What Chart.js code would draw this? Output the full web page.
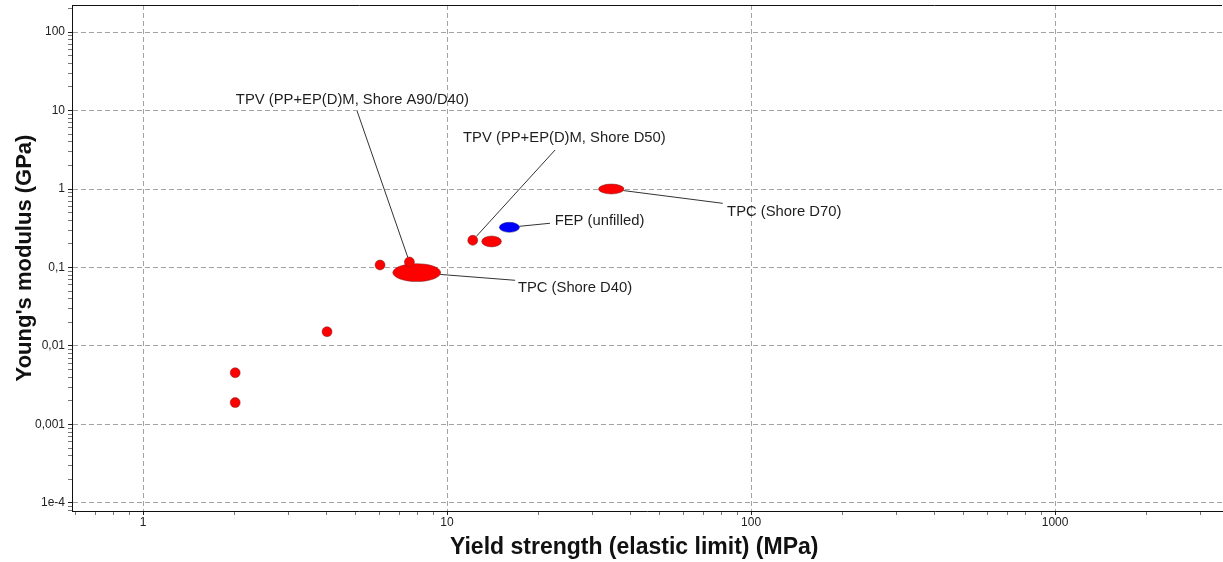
<!DOCTYPE html>
<html lang="en">
<head>
  <meta charset="UTF-8">
  <title>Young's modulus vs yield strength</title>
  <script src="https://cdn.jsdelivr.net/npm/chart.js"></script>
  <style>
    html, body { margin: 0; padding: 0; background: #fff; }
    #wrap { width: 1223px; height: 562px; }
  </style>
</head>
<body>
  <div id="wrap"><canvas id="chart"></canvas></div>

  <script>
    // axis limits (MPa / GPa)
    const X_MIN = 0.584, X_MAX = 3540;
    const Y_MIN = 7.9e-5, Y_MAX = 221;

    // property ranges
    const materialNames = [
      'Elastomer', 'Elastomer', 'Elastomer', 'Elastomer',
      'TPC (Shore D40)', 'TPV (PP+EP(D)M, Shore A90/D40)', 'TPV (PP+EP(D)M, Shore D50)',
      'Elastomer', 'FEP (unfilled)', 'TPC (Shore D70)'
    ];
    const materialGroup = ['elastomer', 'elastomer', 'elastomer', 'elastomer', 'elastomer',
      'elastomer', 'elastomer', 'elastomer', 'fluoropolymer', 'elastomer'];
    const yieldLow    = [2.01, 2.01, 4.03, 6.02, 6.63, 7.52, 12.15, 13.0, 14.86, 31.5];
    const yieldHigh   = [2.01, 2.01, 4.03, 6.02, 9.53, 7.52, 12.15, 15.1, 17.3, 38.2];
    const modulusLow  = [0.0019, 0.00456, 0.0152, 0.1076, 0.0662, 0.1175, 0.222, 0.183, 0.284, 0.871];
    const modulusHigh = [0.0019, 0.00456, 0.0152, 0.1076, 0.112, 0.1175, 0.222, 0.252, 0.372, 1.148];

    // callouts: which material, where the leader ends, where the text starts
    const labelText = ['TPV (PP+EP(D)M, Shore A90/D40)', 'TPV (PP+EP(D)M, Shore D50)',
      'FEP (unfilled)', 'TPC (Shore D70)', 'TPC (Shore D40)'];
    const labelFor = [5, 6, 8, 9, 4];
    const leaderToX = [5.06, 22.66, 21.8, 80.7, 16.74];
    const leaderToY = [9.85, 3.14, 0.366, 0.657, 0.0687];
    const labelX = [2.02, 11.29, 22.6, 83.4, 17.1];
    const labelY = [13.49, 4.46, 0.391, 0.514, 0.0553];

    const FONT = "'Liberation Sans', Arial, sans-serif";

    function isDecade(v) {
      if (!v) return false;
      const l = Math.log10(v);
      return Math.abs(l - Math.round(l)) < 1e-6;
    }

    function logTicks(min, max) {
      const out = [];
      for (let e = Math.floor(Math.log10(min)); e <= Math.ceil(Math.log10(max)); e++) {
        for (let m = 1; m <= 9; m++) {
          const v = parseFloat((m * Math.pow(10, e)).toPrecision(10));
          if (v >= min && v <= max) out.push({ value: v, major: m === 1 });
        }
      }
      return out;
    }

    function buildData(group) {
      const rows = [];
      materialNames.forEach((name, i) => {
        if (materialGroup[i] !== group) return;
        rows.push({
          x: Math.sqrt(yieldLow[i] * yieldHigh[i]),
          y: Math.sqrt(modulusLow[i] * modulusHigh[i]),
          idx: i, name
        });
      });
      return rows;
    }

    // ellipse in pixels for a material, from the scales
    function ellipseFor(i, xs, ys) {
      const x1 = xs.getPixelForValue(yieldLow[i]), x2 = xs.getPixelForValue(yieldHigh[i]);
      const y1 = ys.getPixelForValue(modulusLow[i]), y2 = ys.getPixelForValue(modulusHigh[i]);
      return {
        cx: (x1 + x2) / 2, cy: (y1 + y2) / 2,
        rx: Math.max(5, Math.abs(x2 - x1) / 2),
        ry: Math.max(5, Math.abs(y2 - y1) / 2)
      };
    }

    const bubblePlugin = {
      id: 'bubbles',
      afterDatasetsDraw(chart) {
        const { ctx, chartArea: a } = chart;
        const xs = chart.scales.x, ys = chart.scales.y;
        ctx.save();

        // top frame line
        ctx.strokeStyle = '#111';
        ctx.lineWidth = 1;
        ctx.beginPath();
        ctx.moveTo(a.left, a.top + 0.5);
        ctx.lineTo(a.right, a.top + 0.5);
        ctx.stroke();

        ctx.beginPath();
        ctx.rect(a.left, a.top, a.right - a.left, a.bottom - a.top);
        ctx.clip();

        // leader lines
        ctx.strokeStyle = '#333';
        ctx.lineWidth = 1;
        labelText.forEach((t, k) => {
          const e = ellipseFor(labelFor[k], xs, ys);
          const ax = xs.getPixelForValue(leaderToX[k]), ay = ys.getPixelForValue(leaderToY[k]);
          const dx = ax - e.cx, dy = ay - e.cy;
          const s = 1 / Math.sqrt((dx / e.rx) ** 2 + (dy / e.ry) ** 2);
          ctx.beginPath();
          ctx.moveTo(e.cx + dx * s, e.cy + dy * s);
          ctx.lineTo(ax, ay);
          ctx.stroke();
        });

        // ellipses
        chart.data.datasets.forEach(ds => {
          ds.data.forEach(d => {
            const e = ellipseFor(d.idx, xs, ys);
            ctx.beginPath();
            ctx.ellipse(e.cx, e.cy, e.rx, e.ry, 0, 0, Math.PI * 2);
            ctx.fillStyle = ds.backgroundColor;
            ctx.fill();
            ctx.lineWidth = 0.8;
            ctx.strokeStyle = ds.borderColor;
            ctx.stroke();
          });
        });

        // label text
        ctx.fillStyle = '#1e1e1e';
        ctx.font = '14.8px ' + FONT;
        ctx.textAlign = 'left';
        ctx.textBaseline = 'middle';
        labelText.forEach((t, k) => {
          ctx.fillText(t, xs.getPixelForValue(labelX[k]), ys.getPixelForValue(labelY[k]));
        });

        ctx.restore();
      }
    };

    const gridColor = c => (c.tick && isDecade(c.tick.value)) ? '#a3a3a3' : 'rgba(0,0,0,0)';
    const tickColor = c => (c.tick && isDecade(c.tick.value)) ? '#222' : '#777';

    new Chart(document.getElementById('chart'), {
      type: 'scatter',
      data: {
        datasets: [
          { label: 'Elastomers', data: buildData('elastomer'), backgroundColor: '#ff0000',
            borderColor: 'rgba(110,40,40,0.6)', pointRadius: 0, pointHitRadius: 8 },
          { label: 'Fluoropolymers', data: buildData('fluoropolymer'), backgroundColor: '#0000ff',
            borderColor: 'rgba(40,40,110,0.6)', pointRadius: 0, pointHitRadius: 8 }
        ]
      },
      options: {
        responsive: true,
        maintainAspectRatio: false,
        animation: false,
        layout: { padding: { top: 5, right: 1, left: 0, bottom: 0 } },
        plugins: {
          legend: { display: false },
          tooltip: {
            callbacks: {
              label: c => c.raw.name + ': ' + c.raw.x.toFixed(2) + ' MPa, ' + c.raw.y.toPrecision(3) + ' GPa'
            }
          }
        },
        scales: {
          x: {
            type: 'logarithmic',
            min: X_MIN, max: X_MAX,
            afterBuildTicks: s => { s.ticks = logTicks(X_MIN, X_MAX); },
            afterFit: s => { s.height = 51; s.paddingLeft = 0; s.paddingRight = 0; },
            grid: { color: gridColor, tickColor: tickColor, tickLength: 4, lineWidth: 1 },
            border: { color: '#111', width: 1, dash: [5, 3] },
            ticks: {
              autoSkip: false, maxRotation: 0, padding: 0, color: '#222',
              font: { family: FONT, size: 12 },
              callback: v => isDecade(v) ? String(Math.round(v)) : ''
            },
            title: {
              display: true, text: 'Yield strength (elastic limit) (MPa)    ', color: '#111',
              font: { family: FONT, size: 23, weight: 'bold' },
              padding: { top: 0, bottom: 1 }
            }
          },
          y: {
            type: 'logarithmic',
            min: Y_MIN, max: Y_MAX,
            afterBuildTicks: s => { s.ticks = logTicks(Y_MIN, Y_MAX); },
            afterFit: s => { s.width = 72; s.paddingTop = 0; s.paddingBottom = 0; },
            grid: { color: gridColor, tickColor: tickColor, tickLength: 4, lineWidth: 1 },
            border: { color: '#111', width: 1, dash: [5, 3] },
            ticks: {
              autoSkip: false, padding: 3, color: '#222',
              font: { family: FONT, size: 12 },
              callback: v => {
                if (!isDecade(v)) return '';
                if (v < 0.001) return v.toExponential(0);
                return String(v).replace('.', ',');
              }
            },
            title: {
              display: true, text: "Young's modulus (GPa)", color: '#111',
              font: { family: FONT, size: 22, weight: 'bold' },
              padding: { top: 12, bottom: 0 }
            }
          }
        }
      },
      plugins: [bubblePlugin]
    });
  </script>
</body>
</html>
